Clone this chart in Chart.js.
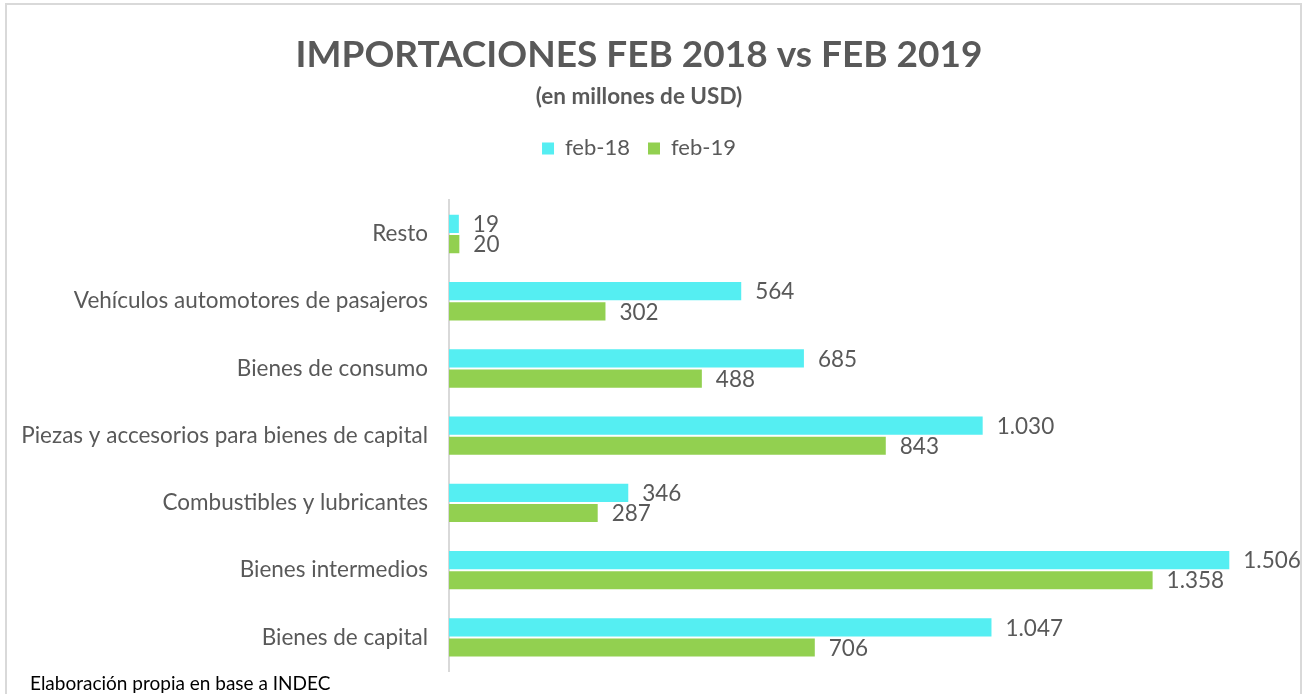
<!DOCTYPE html>
<html>
<head>
<meta charset="utf-8">
<script src="https://cdn.jsdelivr.net/npm/chart.js@4"></script>
<style>
    html, body {
        margin: 0;
        padding: 0;
        background: #ffffff;
        overflow: hidden;
    }
    .wrap {
        position: relative;
        width: 1307px;
        height: 694px;
    }
    .frame {
        position: absolute;
        left: 5px;
        top: 3px;
        width: 1297px;
        height: 720px;
        border: 2px solid #d9d9d9;
        box-sizing: border-box;
    }
    canvas {
        position: absolute;
        left: 0;
        top: 0;
    }
</style>
</head>
<body>
<div class="wrap">
    <div class="frame"></div>
    <canvas id="importChart" width="1307" height="694"></canvas>
</div>
<script>
// Chart data
const categories = [
    'Resto',
    'Vehículos automotores de pasajeros',
    'Bienes de consumo',
    'Piezas y accesorios para bienes de capital',
    'Combustibles y lubricantes',
    'Bienes intermedios',
    'Bienes de capital'
];
const seriesNames = ['feb-18', 'feb-19'];
const feb18 = [19, 564, 685, 1030, 346, 1506, 1047];
const feb19 = [20, 302, 488, 843, 287, 1358, 706];

const FONT = 'Lato, "Open Sans", sans-serif';
const GREY = '#595959';

// Spanish style thousands separator
function formatValue(v) {
    return String(v).replace(/\B(?=(\d{3})+(?!\d))/g, '.');
}

// Value labels next to each bar
const valueLabels = {
    id: 'valueLabels',
    afterDatasetsDraw(chart) {
        const ctx = chart.ctx;
        ctx.save();
        ctx.font = '22.5px ' + FONT;
        ctx.fillStyle = GREY;
        ctx.textAlign = 'left';
        ctx.textBaseline = 'middle';
        chart.data.datasets.forEach((ds, i) => {
            chart.getDatasetMeta(i).data.forEach((bar, j) => {
                ctx.fillText(formatValue(ds.data[j]), bar.x + 14, bar.y + 1);
            });
        });
        ctx.restore();
    }
};

// Extra room between legend and bars
const legendGap = {
    id: 'legendGap',
    beforeInit(chart) {
        const fit = chart.legend.fit;
        chart.legend.fit = function() {
            fit.bind(chart.legend)();
            this.height += 31;
        };
    }
};

// Source note at the bottom left
const sourceNote = {
    id: 'sourceNote',
    afterDraw(chart) {
        const ctx = chart.ctx;
        ctx.save();
        ctx.font = '19px ' + FONT;
        ctx.fillStyle = '#000000';
        ctx.textAlign = 'left';
        ctx.textBaseline = 'middle';
        ctx.fillText('Elaboración propia en base a INDEC', 30, 684);
        ctx.restore();
    }
};

const ctx = document.getElementById('importChart').getContext('2d');
const chart = new Chart(ctx, {
    type: 'bar',
    data: {
        labels: categories,
        datasets: [{
            label: seriesNames[0],
            data: feb18,
            backgroundColor: '#55eef2',
            barPercentage: 0.9,
            categoryPercentage: 0.6
        }, {
            label: seriesNames[1],
            data: feb19,
            backgroundColor: '#92d050',
            barPercentage: 0.9,
            categoryPercentage: 0.6
        }]
    },
    options: {
        indexAxis: 'y',
        responsive: false,
        animation: false,
        layout: {
            padding: { left: 0, right: 29, top: 33, bottom: 23 }
        },
        scales: {
            x: {
                display: false,
                min: 0,
                max: 1600
            },
            y: {
                grid: { display: false },
                border: { display: true, color: '#d9d9d9', width: 2 },
                ticks: {
                    color: GREY,
                    padding: 13,
                    font: { family: FONT, size: 22.5 }
                },
                afterFit(scale) {
                    scale.width = 449;
                    scale.paddingTop = 0;
                    scale.paddingBottom = 0;
                }
            }
        },
        plugins: {
            title: {
                display: true,
                text: 'IMPORTACIONES FEB 2018 vs FEB 2019',
                color: GREY,
                font: { family: FONT, size: 37, weight: 'bold' },
                padding: { top: 0, bottom: 6 }
            },
            subtitle: {
                display: true,
                text: '(en millones de USD)',
                color: GREY,
                font: { family: FONT, size: 22.5, weight: 'bold' },
                padding: { top: 0, bottom: 9 }
            },
            legend: {
                display: true,
                position: 'top',
                labels: {
                    color: GREY,
                    boxWidth: 12,
                    boxHeight: 12,
                    padding: 18,
                    font: { family: FONT, size: 22 }
                }
            },
            tooltip: { enabled: false }
        }
    },
    plugins: [valueLabels, legendGap, sourceNote]
});
</script>
</body>
</html>
